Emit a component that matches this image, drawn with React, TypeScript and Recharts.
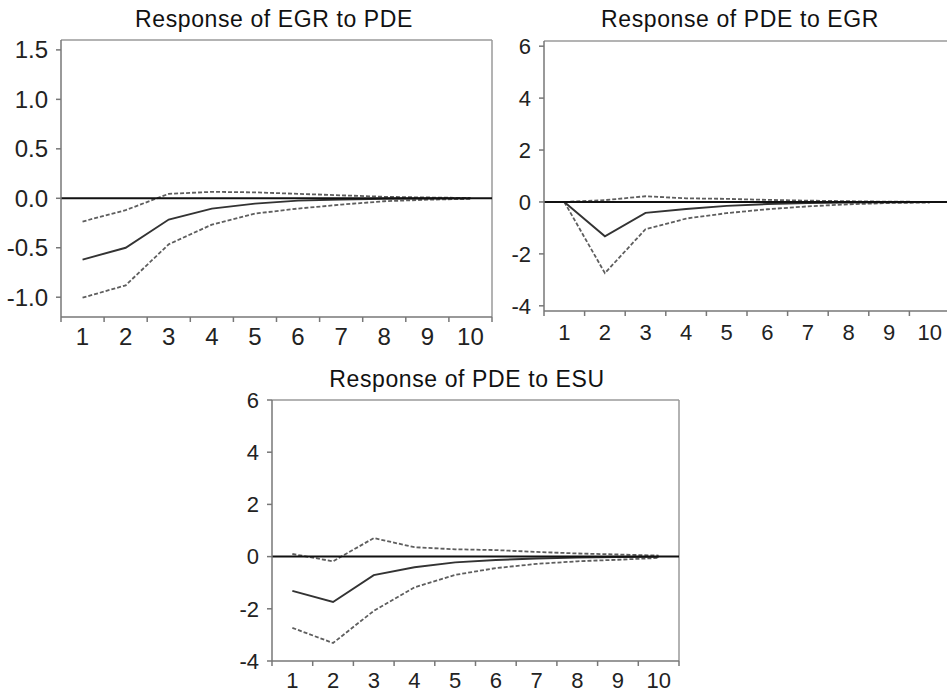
import React from 'react';
import { LineChart, Line, XAxis, YAxis, ReferenceLine } from 'recharts';

// ---- data ----
const periods = [1, 2, 3, 4, 5, 6, 7, 8, 9, 10];
const periodBounds = [0.5, 1.5, 2.5, 3.5, 4.5, 5.5, 6.5, 7.5, 8.5, 9.5, 10.5];

const titles = ['Response of EGR to PDE', 'Response of PDE to EGR', 'Response of PDE to ESU'];

const egrPdeResp = [-0.62, -0.5, -0.215, -0.105, -0.054, -0.024, -0.012, -0.005, -0.002, -0.001];
const egrPdeUpper = [-0.235, -0.12, 0.045, 0.065, 0.06, 0.045, 0.03, 0.015, 0.008, 0.003];
const egrPdeLower = [-1.005, -0.88, -0.465, -0.266, -0.155, -0.104, -0.064, -0.03, -0.014, -0.006];

const pdeEgrResp = [0, -1.32, -0.42, -0.27, -0.15, -0.08, -0.04, -0.02, -0.01, -0.005];
const pdeEgrUpper = [0, 0.07, 0.22, 0.14, 0.12, 0.08, 0.05, 0.03, 0.01, 0.005];
const pdeEgrLower = [0, -2.74, -1.05, -0.64, -0.43, -0.28, -0.17, -0.09, -0.04, -0.02];

const pdeEsuResp = [-1.31, -1.74, -0.71, -0.41, -0.22, -0.13, -0.07, -0.04, -0.02, -0.01];
const pdeEsuUpper = [0.1, -0.18, 0.71, 0.36, 0.28, 0.25, 0.18, 0.12, 0.08, 0.04];
const pdeEsuLower = [-2.73, -3.31, -2.08, -1.18, -0.7, -0.44, -0.28, -0.18, -0.12, -0.05];

const ticksEgrPde = [-1, -0.5, 0, 0.5, 1, 1.5];
const ticksPde = [-4, -2, 0, 2, 4, 6];
const domainEgrPde = [-1.2, 1.6];
const domainPdeEgr = [-4.2, 6.2];
const domainPdeEsu = [-4, 6];

const buildRows = (resp: number[], upper: number[], lower: number[]) =>
  periods.map((p, i) => ({ period: p, resp: resp[i], upper: upper[i], lower: lower[i] }));

const FONT = '"Liberation Sans", Arial, Helvetica, sans-serif';
const AXIS = '#777';
const FRAME = '#9a9a9a';

function XTick(props: any) {
  const { x, y, payload, plotW, fontSize, labelOffset } = props;
  const half = plotW / periods.length / 2;
  const v = payload.value;
  const isLast = v >= periods[periods.length - 1];
  return (
    <g>
      <line x1={x} x2={x} y1={y} y2={y + 5} stroke={AXIS} strokeWidth={1.5} />
      {!isLast && (
        <text
          x={x + half}
          y={y + labelOffset}
          textAnchor="middle"
          dominantBaseline="central"
          fontSize={fontSize}
          fontFamily={FONT}
          fill="#222"
        >
          {v + 0.5}
        </text>
      )}
    </g>
  );
}

type PanelProps = {
  left: number;
  top: number;
  width: number;
  height: number;
  marginTop: number;
  marginRight: number;
  yW: number;
  xH: number;
  domain: number[];
  ticks: number[];
  decimals: number;
  fontSize: number;
  labelOffset: number;
  rows: any[];
};

function Panel(p: PanelProps) {
  const plotW = p.width - p.yW - p.marginRight;
  return (
    <div style={{ position: 'absolute', left: p.left, top: p.top }}>
      <LineChart
        width={p.width}
        height={p.height}
        data={p.rows}
        margin={{ top: p.marginTop, right: p.marginRight, left: 0, bottom: 0 }}
      >
        <XAxis
          dataKey="period"
          type="number"
          domain={[periodBounds[0], periodBounds[periodBounds.length - 1]]}
          ticks={periodBounds}
          interval={0}
          allowDataOverflow
          height={p.xH}
          tickLine={false}
          tickSize={0}
          tickMargin={0}
          axisLine={{ stroke: AXIS, strokeWidth: 1.5 }}
          tick={(tp: any) => (
            <XTick {...tp} plotW={plotW} fontSize={p.fontSize} labelOffset={p.labelOffset} />
          )}
        />
        <YAxis
          type="number"
          domain={p.domain}
          ticks={p.ticks}
          interval={0}
          allowDataOverflow
          width={p.yW}
          tickSize={5}
          tickMargin={8}
          tickLine={{ stroke: AXIS, strokeWidth: 1.5 }}
          axisLine={{ stroke: AXIS, strokeWidth: 1.5 }}
          tickFormatter={(v: number) => v.toFixed(p.decimals)}
          tick={{ fontSize: p.fontSize, fill: '#222', fontFamily: FONT }}
        />
        <ReferenceLine y={p.domain[1]} stroke={FRAME} strokeWidth={1.5} />
        <ReferenceLine x={periodBounds[periodBounds.length - 1]} stroke={FRAME} strokeWidth={1.5} />
        <Line
          dataKey="upper"
          type="linear"
          stroke="#5e5e5e"
          strokeWidth={1.8}
          strokeDasharray="4 2"
          dot={false}
          isAnimationActive={false}
        />
        <Line
          dataKey="lower"
          type="linear"
          stroke="#5e5e5e"
          strokeWidth={1.8}
          strokeDasharray="4 2"
          dot={false}
          isAnimationActive={false}
        />
        <Line
          dataKey="resp"
          type="linear"
          stroke="#333"
          strokeWidth={1.9}
          dot={false}
          isAnimationActive={false}
        />
        <ReferenceLine y={0} stroke="#111" strokeWidth={2} />
      </LineChart>
    </div>
  );
}

export default function App() {
  const titleStyle = { fontSize: 23, fontFamily: FONT, fill: '#111', letterSpacing: 0.6 } as any;
  return (
    <div
      style={{
        position: 'absolute',
        left: 0,
        top: 0,
        width: 947,
        height: 691,
        overflow: 'hidden',
        background: '#fff',
      }}
    >
      <Panel
        left={0}
        top={0}
        width={500}
        height={359}
        marginTop={40}
        marginRight={8}
        yW={61}
        xH={42}
        domain={domainEgrPde}
        ticks={ticksEgrPde}
        decimals={1}
        fontSize={24}
        labelOffset={19}
        rows={buildRows(egrPdeResp, egrPdeUpper, egrPdeLower)}
      />
      <Panel
        left={484}
        top={0}
        width={474}
        height={353}
        marginTop={41}
        marginRight={8}
        yW={60}
        xH={42}
        domain={domainPdeEgr}
        ticks={ticksPde}
        decimals={0}
        fontSize={22}
        labelOffset={21}
        rows={buildRows(pdeEgrResp, pdeEgrUpper, pdeEgrLower)}
      />
      <Panel
        left={212}
        top={360}
        width={475}
        height={341}
        marginTop={40}
        marginRight={8}
        yW={60}
        xH={40}
        domain={domainPdeEsu}
        ticks={ticksPde}
        decimals={0}
        fontSize={22}
        labelOffset={19}
        rows={buildRows(pdeEsuResp, pdeEsuUpper, pdeEsuLower)}
      />
      <svg
        width={947}
        height={691}
        style={{ position: 'absolute', left: 0, top: 0, pointerEvents: 'none' }}
      >
        <text x={274} y={27} textAnchor="middle" style={titleStyle}>{titles[0]}</text>
        <text x={740} y={27} textAnchor="middle" style={titleStyle}>{titles[1]}</text>
        <text x={467} y={387} textAnchor="middle" style={titleStyle}>{titles[2]}</text>
      </svg>
    </div>
  );
}
